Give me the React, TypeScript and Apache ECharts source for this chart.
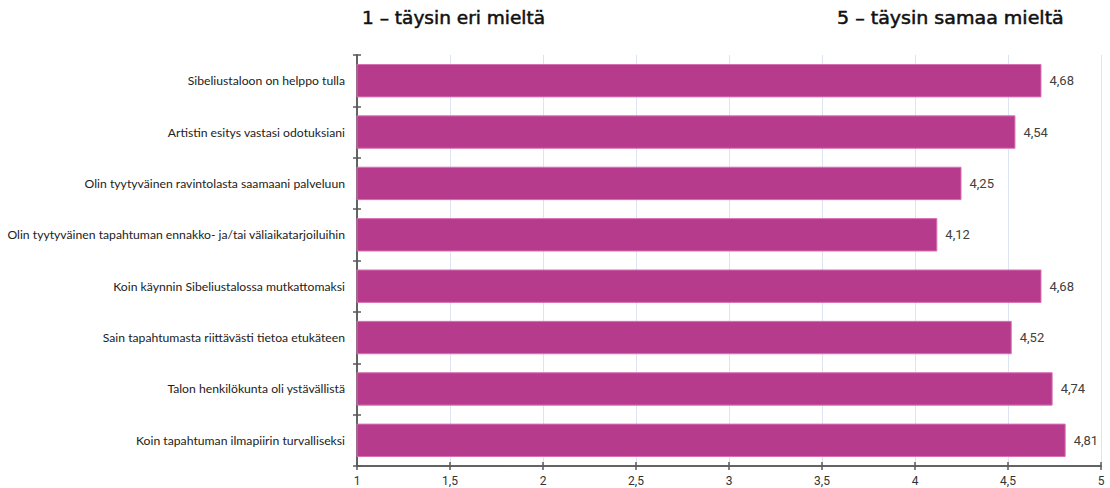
import React, { useEffect, useRef } from "react";
import * as echarts from "echarts";

const categories = [
  "Sibeliustaloon on helppo tulla",
  "Artistin esitys vastasi odotuksiani",
  "Olin tyytyväinen ravintolasta saamaani palveluun",
  "Olin tyytyväinen tapahtuman ennakko- ja/tai väliaikatarjoiluihin",
  "Koin käynnin Sibeliustalossa mutkattomaksi",
  "Sain tapahtumasta riittävästi tietoa etukäteen",
  "Talon henkilökunta oli ystävällistä",
  "Koin tapahtuman ilmapiirin turvalliseksi",
];
const values = [4.68, 4.54, 4.25, 4.12, 4.68, 4.52, 4.74, 4.81];
const leftTitle = "1 – täysin eri mieltä";
const rightTitle = "5 – täysin samaa mieltä";

const fmt = (v: number) => String(v).replace(".", ",");

export default function App() {
  const ref = useRef<HTMLDivElement>(null);
  useEffect(() => {
    if (!ref.current) return;
    const chart = echarts.init(ref.current, null, { renderer: "svg" });
    const axisColor = "#5a5a5a";
    const valueAxisBase = {
      type: "value",
      min: 1,
      max: 5,
      interval: 0.5,
      axisLine: { show: true, lineStyle: { color: axisColor, width: 1.5 } },
    };
    const catAxisBase = {
      type: "category",
      data: categories,
      inverse: true,
      axisLine: { show: true, lineStyle: { color: axisColor, width: 1.5 } },
    };
    const titleStyle = {
      fontSize: 17,
      fontFamily: "DejaVu Sans",
      fill: "#111",
      stroke: "#111",
      lineWidth: 0.5,
      textVerticalAlign: "middle",
    };
    chart.setOption({
      animation: false,
      grid: { left: 357, right: 9, top: 55, bottom: 22, containLabel: false },
      xAxis: [
        {
          ...valueAxisBase,
          axisTick: { show: true, length: 4, lineStyle: { color: axisColor, width: 1.5 } },
          axisLabel: {
            color: "#333",
            fontSize: 12,
            fontFamily: "Roboto",
            margin: 9,
            formatter: (v: number) => fmt(v),
          },
          splitLine: { show: true, lineStyle: { color: "#dce4f2", width: 1 } },
        },
        {
          ...valueAxisBase,
          position: "bottom",
          axisTick: { show: true, inside: true, length: 4, lineStyle: { color: axisColor, width: 1.5 } },
          axisLabel: { show: false },
          splitLine: { show: false },
        },
      ],
      yAxis: [
        {
          ...catAxisBase,
          axisTick: { show: true, length: 4, lineStyle: { color: axisColor, width: 1.5 } },
          axisLabel: {
            color: "#222",
            fontSize: 12.2,
            fontFamily: "Lato",
            margin: 12,
          },
        },
        {
          ...catAxisBase,
          position: "left",
          axisTick: { show: true, inside: true, length: 4, lineStyle: { color: axisColor, width: 1.5 } },
          axisLabel: { show: false },
        },
      ],
      series: [
        {
          type: "bar",
          data: values,
          barCategoryGap: "35%",
          itemStyle: { color: "#b73b8c", borderColor: "#d870b4", borderWidth: 1 },
          label: {
            show: true,
            position: "right",
            distance: 8,
            color: "#404040",
            fontSize: 13,
            fontFamily: "Roboto",
            formatter: (p: any) => fmt(p.value),
          },
        },
      ],
      graphic: [
        {
          type: "text",
          x: 362,
          y: 18,
          scaleX: 1.09,
          style: { ...titleStyle, text: leftTitle },
        },
        {
          type: "text",
          x: 837,
          y: 18,
          scaleX: 1.12,
          style: { ...titleStyle, text: rightTitle },
        },
      ],
    });
    return () => chart.dispose();
  }, []);
  return (
    <div
      ref={ref}
      style={{ position: "absolute", left: 0, top: 0, width: 1110, height: 488 }}
    />
  );
}
